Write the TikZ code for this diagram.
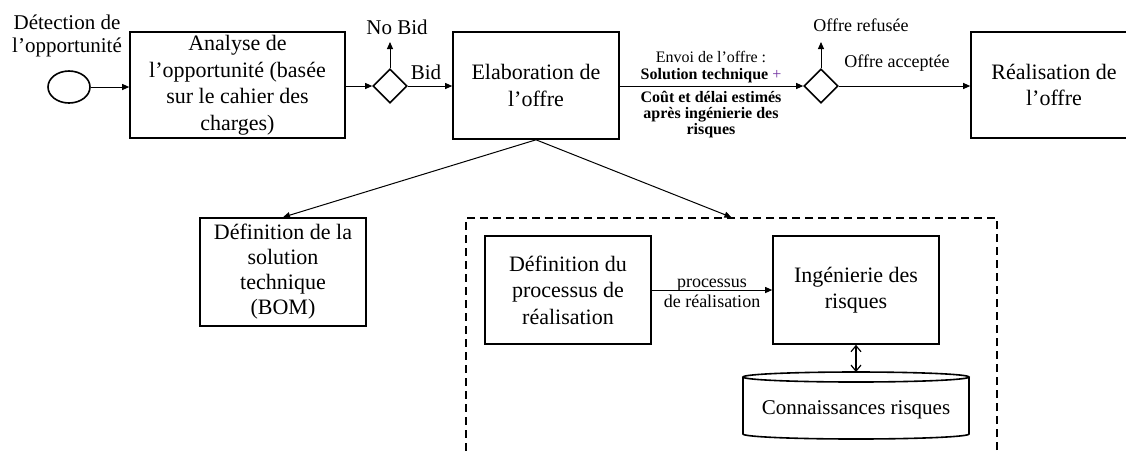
\documentclass[tikz,border=0pt]{standalone}
\usepackage{fontspec}
\setmainfont{Liberation Serif}
\usetikzlibrary{arrows.meta,shapes.geometric}
\definecolor{plusviolet}{RGB}{112,48,160}
\begin{document}
\begin{tikzpicture}[x=0.5pt,y=-0.5pt,
  box/.style={draw, line width=0.8pt, align=center, inner sep=0pt,
    font=\fontsize{11}{13.25}\selectfont},
  flow/.style={line width=0.5pt, -{Triangle[length=3.5pt,width=3pt]}},
  gate/.style={draw, diamond, line width=0.8pt, minimum width=17pt,
    minimum height=17pt, inner sep=0pt},
  lbl/.style={align=center, inner sep=0pt},
  smalltext/.style={lbl, font=\fontsize{9}{10}\selectfont}]
\useasboundingbox (0,0) rectangle (1126,452);
\clip (0,0) rectangle (1126,452);

% main flow, top row
\node[draw, ellipse, line width=0.8pt, minimum width=21pt, minimum height=16pt,
  inner sep=0pt] (start) at (69,87) {};
\node[lbl, font=\fontsize{10.5}{11.5}\selectfont] (detect) at (67,36)
  {Détection de\\l’opportunité};
\node[box, minimum width=107.5pt, minimum height=53pt] (analyse) at (237.5,85)
  {Analyse de\\l’opportunité (basée\\sur le cahier des\\charges)};
\node[gate] (bidgate) at (390,86) {};
\coordinate (nobidend) at (390,42);
\node[lbl, font=\fontsize{10.5}{12}\selectfont] (nobid) at (397,27) {No Bid};
\node[lbl, font=\fontsize{10.5}{12}\selectfont] (bid) at (426,72) {Bid};
\node[box, minimum width=83pt, minimum height=53.5pt] (elab) at (536,85.5)
  {Elaboration de\\l’offre};
\node[gate] (offergate) at (821,86) {};
\coordinate (refusedend) at (821,42);
\node[smalltext] (refused) at (861,25) {Offre refusée};
\node[smalltext] (accepted) at (897,63) {Offre acceptée};
\node[box, minimum width=83pt, minimum height=53pt] (real) at (1054,85)
  {Réalisation de\\l’offre};

\node[lbl, font=\fontsize{8}{8.5}\selectfont, anchor=south] (envoitop) at (711,83)
  {Envoi de l’offre :\\\textbf{Solution technique} \textcolor{plusviolet}{+}};
\node[lbl, font=\fontsize{8}{8}\selectfont\bfseries, anchor=north] (envoibot) at (711,91)
  {Coût et délai estimés\\après ingénierie des\\risques};

\draw[flow] (start.east) -- (start.east -| analyse.west);
\draw[flow] (analyse.east |- bidgate) -- (bidgate.west);
\draw[flow] (bidgate.north) -- (nobidend);
\draw[flow] (bidgate.east) -- (bidgate.east -| elab.west);
\draw[flow] (elab.east |- offergate) -- (offergate.west);
\draw[flow] (offergate.north) -- (refusedend);
\draw[flow] (offergate.east) -- (offergate.east -| real.west);

% lower part
\node[box, font=\fontsize{11}{12.5}\selectfont, minimum width=83pt, minimum height=54pt]
  (defsol) at (283,272) {Définition de la\\solution\\technique\\(BOM)};
\node[draw, line width=0.7pt, dash pattern=on 4pt off 2.5pt, minimum width=265.5pt,
  minimum height=130pt, inner sep=0pt] (riskzone) at (731.5,348) {};
\node[box, minimum width=83pt, minimum height=54pt] (defproc) at (568,290)
  {Définition du\\processus de\\réalisation};
\node[box, minimum width=83pt, minimum height=54pt] (ing) at (856,290)
  {Ingénierie des\\risques};
\node[smalltext] (proclabel) at (712,293) {processus\\de réalisation};

\draw[flow] (elab.south) -- (defsol.north);
\draw[flow] (elab.south) -- (riskzone.north);
\draw[flow] (defproc.east) -- (ing.west);

% knowledge base drawn as a cylinder
\draw[line width=0.8pt] (856,377) ellipse [x radius=56.5pt, y radius=2.5pt];
\draw[line width=0.8pt] (743,377) -- (743,434)
  arc[start angle=180, end angle=360, x radius=56.5pt, y radius=2.5pt] -- (969,377);
\node[lbl, font=\fontsize{10.5}{12}\selectfont] (kb) at (856,410) {Connaissances risques};
\coordinate (kbtop) at (856,372);
\draw[line width=0.6pt, {Straight Barb[length=3pt,width=5pt]}-{Straight Barb[length=3pt,width=5pt]}]
  (ing.south) -- (kbtop);
\end{tikzpicture}
\end{document}
